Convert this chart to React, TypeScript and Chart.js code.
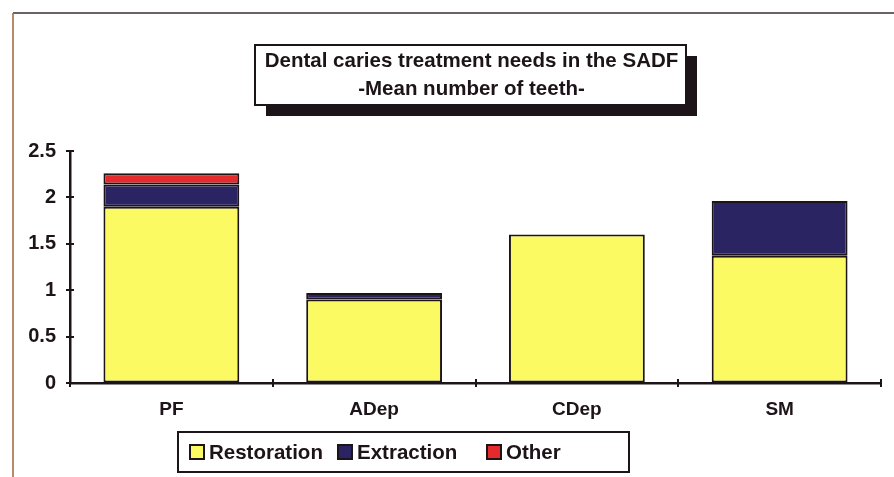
import React, { useEffect, useRef } from "react";
import { Chart, registerables } from "chart.js";

Chart.register(...registerables);

const categories = ["PF", "ADep", "CDep", "SM"];
const restoration = [1.9, 0.9, 1.6, 1.37];
const extraction = [0.24, 0.07, 0, 0.59];
const other = [0.12, 0, 0, 0];
const yTicks = [0, 0.5, 1, 1.5, 2, 2.5];
const titleLines = ["Dental caries treatment needs in the SADF", "-Mean number of teeth-"];

const FONT = "'Liberation Sans', Arial, sans-serif";
const INK = "#1c1418";

// Page frame, boxed title with drop shadow, crossing tick marks and boxed legend
const decorations = {
  id: "decorations",
  beforeDraw(chart: any) {
    const ctx = chart.ctx;
    ctx.save();
    ctx.fillStyle = "#ffffff";
    ctx.fillRect(0, 0, chart.width, chart.height);
    ctx.strokeStyle = "#3a3034";
    ctx.lineWidth = 1.5;
    ctx.beginPath();
    ctx.moveTo(13, 13);
    ctx.lineTo(chart.width, 13);
    ctx.stroke();
    ctx.strokeStyle = "#a0623a";
    ctx.beginPath();
    ctx.moveTo(13, 13);
    ctx.lineTo(13, chart.height);
    ctx.stroke();
    ctx.restore();
  },
  afterDraw(chart: any) {
    const ctx = chart.ctx;
    const xs = chart.scales.x;
    const ys = chart.scales.y;
    const area = chart.chartArea;
    ctx.save();

    // tick marks crossing the axes
    ctx.strokeStyle = INK;
    ctx.lineWidth = 2;
    ctx.beginPath();
    yTicks.forEach((v) => {
      const y = Math.round(ys.getPixelForValue(v));
      ctx.moveTo(area.left - 4, y);
      ctx.lineTo(area.left + 4, y);
    });
    for (let i = 0; i <= categories.length; i++) {
      const x = Math.round(area.left + (i * (area.right - area.left)) / categories.length);
      ctx.moveTo(x, area.bottom - 4);
      ctx.lineTo(x, area.bottom + 4);
    }
    ctx.stroke();

    // title box
    const tx = 255, ty = 45, tw = 431, th = 60;
    ctx.fillStyle = INK;
    ctx.fillRect(tx + 11, ty + 11, tw, th);
    ctx.fillStyle = "#ffffff";
    ctx.fillRect(tx, ty, tw, th);
    ctx.strokeStyle = INK;
    ctx.lineWidth = 2;
    ctx.strokeRect(tx, ty, tw, th);
    ctx.fillStyle = INK;
    ctx.font = `bold 20.5px ${FONT}`;
    ctx.textAlign = "center";
    ctx.textBaseline = "middle";
    ctx.fillText(titleLines[0], tx + tw / 2 + 1, ty + 16);
    ctx.fillText(titleLines[1], tx + tw / 2 + 1, ty + 44);

    // legend box
    const lx = 178, ly = 432, lw = 451, lh = 40;
    ctx.fillStyle = "#ffffff";
    ctx.fillRect(lx, ly, lw, lh);
    ctx.strokeStyle = INK;
    ctx.lineWidth = 2;
    ctx.strokeRect(lx, ly, lw, lh);
    const items = chart.data.datasets;
    const lxs = [190, 338, 487];
    ctx.font = `bold 20.5px ${FONT}`;
    ctx.textAlign = "left";
    items.forEach((ds: any, i: number) => {
      const x = lxs[i];
      const cy = ly + lh / 2;
      ctx.fillStyle = ds.backgroundColor;
      ctx.fillRect(x, cy - 7, 14, 14);
      ctx.lineWidth = 2;
      ctx.strokeStyle = INK;
      ctx.strokeRect(x, cy - 7, 14, 14);
      ctx.fillStyle = INK;
      ctx.fillText(ds.label, x + 19, cy + 1);
    });
    ctx.restore();
  },
};

export default function App() {
  const ref = useRef<HTMLCanvasElement>(null);

  useEffect(() => {
    if (!ref.current) return;
    const common = {
      borderColor: INK,
      borderWidth: 2,
      borderSkipped: false,
      categoryPercentage: 1,
      barPercentage: 0.67,
    };
    const chart = new Chart(ref.current, {
      type: "bar",
      data: {
        labels: categories,
        datasets: [
          { label: "Restoration", data: restoration, backgroundColor: "#fcfa62", ...common },
          { label: "Extraction", data: extraction, backgroundColor: "#2a2462", ...common },
          { label: "Other", data: other, backgroundColor: "#e42a2c", ...common },
        ],
      },
      options: {
        animation: false,
        responsive: false,
        devicePixelRatio: 1,
        layout: { padding: { left: 0, top: 151, right: 13, bottom: 54 } },
        plugins: {
          legend: { display: false },
          title: { display: false },
          tooltip: { enabled: false },
        },
        scales: {
          x: {
            stacked: true,
            afterFit: (s: any) => { s.height = 40; },
            grid: { display: true, drawOnChartArea: false, drawTicks: false, offset: true, color: "transparent" },
            border: { display: true, color: INK, width: 2.5 },
            ticks: { color: INK, padding: 15, font: { family: FONT, weight: "bold", size: 19 } },
          },
          y: {
            stacked: true,
            min: 0,
            max: 2.5,
            afterFit: (s: any) => { s.width = 70; },
            afterBuildTicks: (s: any) => { s.ticks = yTicks.map((v) => ({ value: v })); },
            grid: { display: true, drawOnChartArea: false, drawTicks: false, color: "transparent" },
            border: { display: true, color: INK, width: 2.5 },
            ticks: {
              color: INK,
              padding: 14,
              callback: (v: any) => String(v),
              font: { family: FONT, weight: "bold", size: 20 },
            },
          },
        },
      },
      plugins: [decorations],
    });
    return () => chart.destroy();
  }, []);

  return (
    <div style={{ position: "fixed", left: 0, top: 0, width: 894, height: 477 }}>
      <canvas ref={ref} width={894} height={477} style={{ display: "block", width: 894, height: 477 }} />
    </div>
  );
}
